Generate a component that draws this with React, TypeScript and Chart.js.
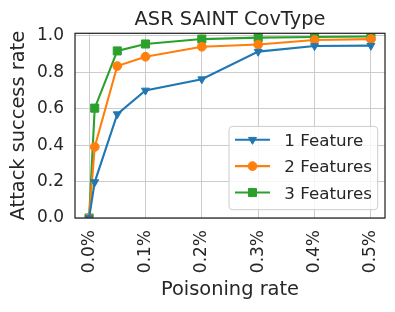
import React, { useEffect, useRef } from 'react';
import { Chart, registerables } from 'chart.js';

Chart.register(...registerables);

const poisonRates = [0, 0.01, 0.05, 0.1, 0.2, 0.3, 0.4, 0.5];
const oneFeature = [0, 0.197, 0.57, 0.7, 0.762, 0.913, 0.944, 0.946];
const twoFeatures = [0, 0.39, 0.834, 0.885, 0.94, 0.952, 0.977, 0.982];
const threeFeatures = [0, 0.603, 0.917, 0.955, 0.982, 0.99, 0.993, 0.996];
const seriesLabels = ['1 Feature', '2 Features', '3 Features'];
const seriesColors = ['#1f77b4', '#ff7f0e', '#2ca02c'];
const xTickValues = [0, 0.1, 0.2, 0.3, 0.4, 0.5];
const yTickValues = [0, 0.2, 0.4, 0.6, 0.8, 1.0];
const chartTitle = 'ASR SAINT CovType';

const FONT = "'DejaVu Sans', sans-serif";
const TEXT = '#262626';

function drawMarker(ctx: CanvasRenderingContext2D, kind: string, x: number, y: number, color: string) {
  ctx.save();
  ctx.fillStyle = color;
  ctx.strokeStyle = color;
  ctx.lineWidth = 1;
  ctx.beginPath();
  if (kind === 'circle') {
    ctx.arc(x, y, 4.4, 0, Math.PI * 2);
  } else if (kind === 'rect') {
    const s = 5.7 * Math.SQRT1_2;
    ctx.rect(x - s, y - s, 2 * s, 2 * s);
  } else {
    const r = 4.6;
    let rad = Math.PI;
    ctx.moveTo(x + Math.sin(rad) * r, y - Math.cos(rad) * r);
    rad += (2 * Math.PI) / 3;
    ctx.lineTo(x + Math.sin(rad) * r, y - Math.cos(rad) * r);
    rad += (2 * Math.PI) / 3;
    ctx.lineTo(x + Math.sin(rad) * r, y - Math.cos(rad) * r);
    ctx.closePath();
  }
  ctx.fill();
  ctx.stroke();
  ctx.restore();
}

const framePlugin = {
  id: 'frame',
  afterDatasetsDraw(chart: any) {
    const { ctx, chartArea: ca } = chart;
    ctx.save();
    ctx.strokeStyle = TEXT;
    ctx.lineWidth = 1.25;
    ctx.strokeRect(ca.left, ca.top, ca.right - ca.left, ca.bottom - ca.top);
    ctx.restore();
  },
};

const titlePlugin = {
  id: 'centeredTitle',
  afterDraw(chart: any) {
    const { ctx, chartArea: ca } = chart;
    ctx.save();
    ctx.font = `19.4px ${FONT}`;
    ctx.fillStyle = TEXT;
    ctx.textAlign = 'center';
    ctx.textBaseline = 'alphabetic';
    ctx.fillText(chartTitle, (ca.left + ca.right) / 2, 25);
    ctx.restore();
  },
};

const markerKinds = ['triangle', 'circle', 'rect'];

const legendPlugin = {
  id: 'insideLegend',
  afterDraw(chart: any) {
    const { ctx, chartArea: ca } = chart;
    const w = 148.7;
    const h = 83.3;
    const x = ca.right - 7.3 - w;
    const y = ca.bottom - 8.3 - h;
    ctx.save();
    ctx.beginPath();
    if ((ctx as any).roundRect) {
      (ctx as any).roundRect(x, y, w, h, 3.5);
    } else {
      ctx.rect(x, y, w, h);
    }
    ctx.fillStyle = 'rgba(255,255,255,0.8)';
    ctx.fill();
    ctx.strokeStyle = '#cccccc';
    ctx.lineWidth = 1;
    ctx.stroke();
    ctx.font = `16.7px ${FONT}`;
    ctx.textBaseline = 'alphabetic';
    ctx.textAlign = 'left';
    seriesLabels.forEach((label, i) => {
      const cy = y + 13.3 + i * 26.4;
      const color = seriesColors[i];
      ctx.strokeStyle = color;
      ctx.lineWidth = 2.1;
      ctx.beginPath();
      ctx.moveTo(x + 6, cy);
      ctx.lineTo(x + 41, cy);
      ctx.stroke();
      drawMarker(ctx, markerKinds[i], x + 23.5, cy, color);
      ctx.fillStyle = TEXT;
      ctx.fillText(label, x + 55.3, cy + 6.1);
    });
    ctx.restore();
  },
};

export default function App() {
  const ref = useRef<HTMLCanvasElement | null>(null);

  useEffect(() => {
    if (!ref.current) return;
    const toPoints = (vals: number[]) => poisonRates.map((r, i) => ({ x: r, y: vals[i] }));
    const tickFont = { family: FONT, size: 17, weight: 'normal' as const };
    const labelFont = { family: FONT, size: 19.4, weight: 'normal' as const };
    const gridOpts = { color: '#cccccc', lineWidth: 1, drawTicks: false };

    const mk = (i: number, vals: number[], style: string, radius: number, extra: any = {}) => ({
      label: seriesLabels[i],
      data: toPoints(vals),
      borderColor: seriesColors[i],
      backgroundColor: seriesColors[i],
      pointBackgroundColor: seriesColors[i],
      pointBorderColor: seriesColors[i],
      pointStyle: style,
      pointRadius: radius,
      pointBorderWidth: 1,
      borderWidth: 2.1,
      tension: 0,
      clip: 0,
      ...extra,
    });

    const chart = new Chart(ref.current, {
      type: 'line',
      data: {
        datasets: [
          mk(0, oneFeature, 'triangle', 4.6, { rotation: 180 }),
          mk(1, twoFeatures, 'circle', 4.4),
          mk(2, threeFeatures, 'rect', 5.7),
        ] as any,
      },
      options: {
        animation: false,
        responsive: false,
        devicePixelRatio: 1,
        layout: { padding: { left: 0, right: 10, top: 33.3, bottom: 0 } },
        plugins: {
          legend: { display: false },
          tooltip: { enabled: false },
          title: { display: false },
        },
        scales: {
          x: {
            type: 'linear',
            min: -0.025,
            max: 0.525,
            afterBuildTicks: (s: any) => {
              s.ticks = xTickValues.map((v) => ({ value: v }));
            },
            afterFit: (s: any) => {
              s.height = 94;
              s.paddingLeft = 0;
              s.paddingRight = 0;
            },
            ticks: {
              minRotation: 90,
              maxRotation: 90,
              autoSkip: false,
              padding: 12,
              font: tickFont,
              color: TEXT,
              callback: (v: any) => Number(v).toFixed(1) + '%',
            },
            grid: gridOpts,
            border: { display: false },
            title: {
              display: true,
              text: 'Poisoning rate',
              font: labelFont,
              color: TEXT,
              padding: { top: 0, bottom: 10 },
            },
          },
          y: {
            type: 'linear',
            min: 0,
            max: 1.0137,
            afterBuildTicks: (s: any) => {
              s.ticks = yTickValues.map((v) => ({ value: v }));
            },
            afterFit: (s: any) => {
              s.width = 75;
              s.paddingTop = 0;
              s.paddingBottom = 0;
            },
            ticks: {
              padding: 11,
              font: tickFont,
              color: TEXT,
              callback: (v: any) => Number(v).toFixed(1),
            },
            grid: gridOpts,
            border: { display: false },
            title: {
              display: true,
              text: 'Attack success rate',
              font: labelFont,
              color: TEXT,
              padding: { top: 7, bottom: 0 },
            },
          },
        },
      } as any,
      plugins: [framePlugin, legendPlugin, titlePlugin],
    });
    return () => chart.destroy();
  }, []);

  return (
    <div style={{ position: 'absolute', left: 0, top: 0, width: 395, height: 312, background: '#ffffff' }}>
      <canvas ref={ref} width={395} height={312} style={{ display: 'block', width: 395, height: 312 }} />
    </div>
  );
}
